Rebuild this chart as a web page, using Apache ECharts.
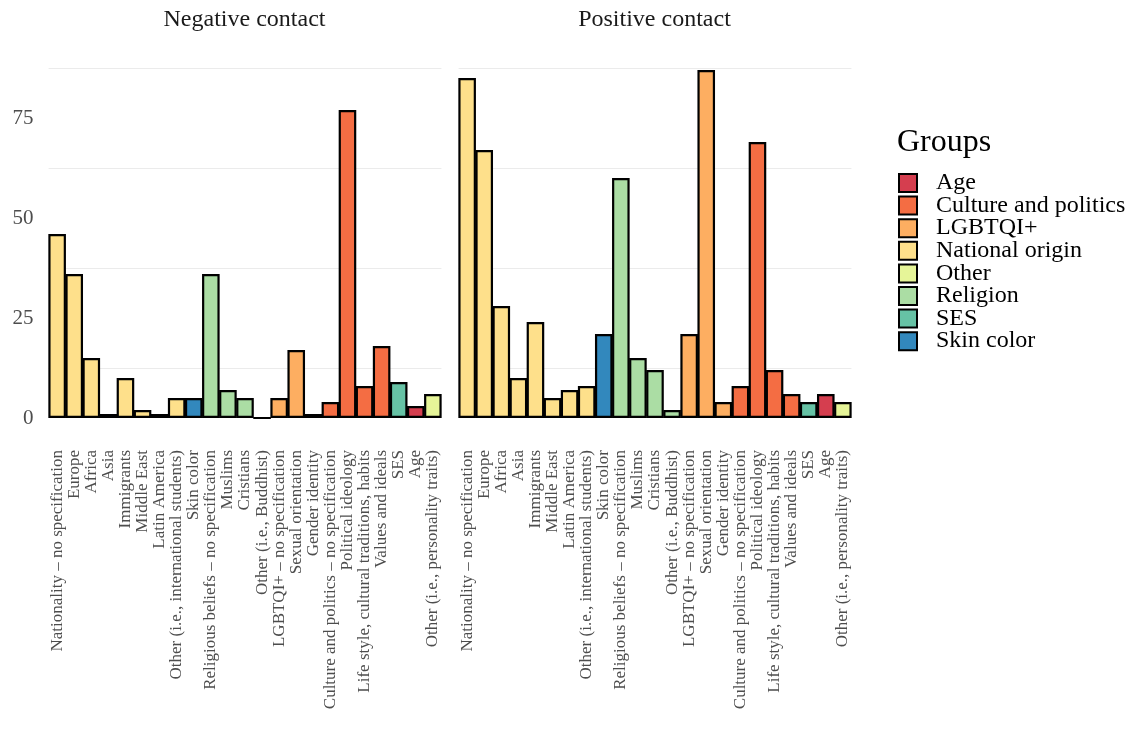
<!DOCTYPE html>
<html>
<head>
<meta charset="utf-8">
<script src="https://cdn.jsdelivr.net/npm/echarts@6/dist/echarts.min.js"></script>
<style>
  html, body { margin: 0; padding: 0; background: #fff; }
  #chart { width: 1130px; height: 738px; }
</style>
</head>
<body>
<div id="chart"></div>
<script>
// Contact targets, in plotting order
const categories = [
  'Nationality – no specification', 'Europe', 'Africa', 'Asia', 'Immigrants',
  'Middle East', 'Latin America', 'Other (i.e., international students)',
  'Skin color', 'Religious beliefs – no specification', 'Muslims', 'Cristians',
  'Other (i.e., Buddhist)', 'LGBTQI+ – no specification', 'Sexual orientation',
  'Gender identity', 'Culture and politics – no specification', 'Political ideology',
  'Life style, cultural traditions, habits', 'Values and ideals', 'SES', 'Age',
  'Other (i.e., personality traits)'
];

// Group each category belongs to
const categoryGroups = [
  'National origin', 'National origin', 'National origin', 'National origin', 'National origin',
  'National origin', 'National origin', 'National origin',
  'Skin color', 'Religion', 'Religion', 'Religion',
  'Religion', 'LGBTQI+', 'LGBTQI+',
  'LGBTQI+', 'Culture and politics', 'Culture and politics',
  'Culture and politics', 'Culture and politics', 'SES', 'Age',
  'Other'
];

const negativeCounts = [46, 36, 15, 1, 10, 2, 1, 5, 5, 36, 7, 5, 0, 5, 17, 1, 4, 77, 8, 18, 9, 3, 6];
const positiveCounts = [85, 67, 28, 10, 24, 5, 7, 8, 21, 60, 15, 12, 2, 21, 87, 4, 8, 69, 12, 6, 4, 6, 4];

const panelTitles = ['Negative contact', 'Positive contact'];

const groups = ['Age', 'Culture and politics', 'LGBTQI+', 'National origin', 'Other', 'Religion', 'SES', 'Skin color'];
const groupColors = ['#D53E4F', '#F46D43', '#FDAE61', '#FEE08B', '#E6F598', '#ABDDA4', '#66C2A5', '#3288BD'];

const yTicks = [0, 25, 50, 75];

const SERIF = '"Liberation Serif", "DejaVu Serif", serif';
const panelLeft = [48.6, 458.6];
const panelWidth = 392.8;
const panelTop = 52.6;
const panelHeight = 365.4;

const chart = echarts.init(document.getElementById('chart'), null, { renderer: 'canvas' });

const grids = panelLeft.map(l => ({ left: l, top: panelTop, width: panelWidth, height: panelHeight }));

const xAxes = panelLeft.map((_, p) => ({
  type: 'category',
  gridIndex: p,
  data: categories,
  axisLine: { show: false },
  axisTick: { show: false },
  axisLabel: {
    interval: 0,
    rotate: 90,
    margin: 32,
    fontFamily: SERIF,
    fontSize: 17,
    color: '#4d4d4d'
  }
}));

const yAxes = panelLeft.map((_, p) => ({
  type: 'value',
  gridIndex: p,
  min: 0,
  max: 91.35,
  interval: 12.5,
  axisLine: { show: false },
  axisTick: { show: false },
  axisLabel: {
    show: p === 0,
    margin: 15,
    fontFamily: SERIF,
    fontSize: 21,
    color: '#4d4d4d',
    formatter: v => (yTicks.indexOf(v) >= 0 ? String(v) : '')
  },
  splitLine: {
    show: true,
    showMaxLine: false,
    lineStyle: { color: ['rgba(0,0,0,0)', '#EBEBEB'], width: 1 }
  }
}));

const series = [];
[negativeCounts, positiveCounts].forEach((counts, p) => {
  groups.forEach((g, gi) => {
    series.push({
      name: g,
      type: 'bar',
      xAxisIndex: p,
      yAxisIndex: p,
      stack: 'panel' + p,
      barWidth: '103%',
      itemStyle: { color: groupColors[gi], borderColor: '#000', borderWidth: 2.2 },
      emphasis: { disabled: true },
      data: counts.map((v, i) => (categoryGroups[i] === g ? v : '-'))
    });
  });
});

// Facet strip titles and the legend heading
const headings = panelTitles.map((t, p) => ({
  type: 'text',
  x: panelLeft[p] + panelWidth / 2 - 0.5,
  y: 20,
  style: {
    text: t,
    textAlign: 'center',
    textVerticalAlign: 'middle',
    font: '24px ' + SERIF,
    fill: '#1a1a1a'
  }
}));
headings.push({
  type: 'text',
  x: 897,
  y: 143,
  style: {
    text: 'Groups',
    textAlign: 'left',
    textVerticalAlign: 'middle',
    font: '32px ' + SERIF,
    fill: '#000'
  }
});

const option = {
  animation: false,
  backgroundColor: '#fff',
  graphic: headings,
  legend: {
    data: groups,
    orient: 'vertical',
    left: 898,
    top: 171,
    padding: 0,
    itemWidth: 18,
    itemHeight: 18,
    itemGap: -1.4,
    icon: 'rect',
    selectedMode: false,
    itemStyle: { borderColor: '#000', borderWidth: 2 },
    textStyle: { fontFamily: SERIF, fontSize: 24, color: '#000', padding: [0, 0, 0, 14] }
  },
  grid: grids,
  xAxis: xAxes,
  yAxis: yAxes,
  series: series
};

chart.setOption(option);
</script>
</body>
</html>
